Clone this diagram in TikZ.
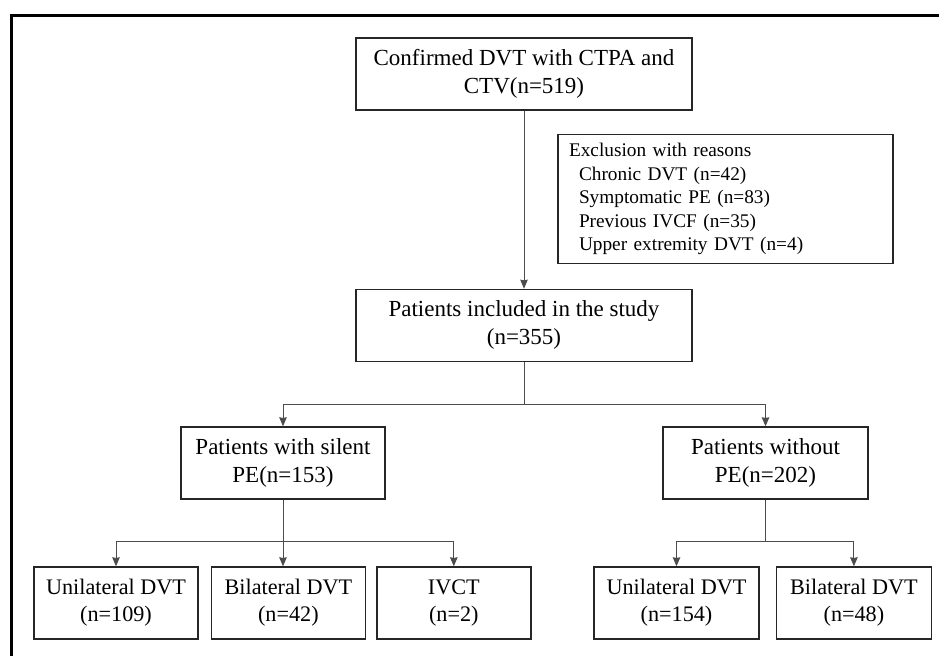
\documentclass[tikz,border=0pt]{standalone}
\usepackage{fontspec}
\setmainfont{Liberation Serif}
\usetikzlibrary{positioning,arrows.meta}

\begin{document}
\begin{tikzpicture}[
    x=1pt, y=-1pt,
    box/.style={rectangle, draw=black!85, line width=1.4pt, inner sep=0pt, align=center,
        minimum height=72pt, font=\fontsize{23}{28}\selectfont},
    smallbox/.style={box, font=\fontsize{22.2}{27}\selectfont},
    notebox/.style={rectangle, draw=black!85, line width=1.4pt, align=left, inner xsep=11pt,
        inner ysep=0pt, text width=313pt, minimum height=129pt, font=\fontsize{19.3}{23.6}\selectfont},
    link/.style={->, >={Stealth[length=9pt, width=7.5pt, inset=0.6pt]}, draw=black!70, line width=0.9pt}
    ]
        \useasboundingbox (0,0) rectangle (939,656);
        %Frame
        \draw[line width=3pt] (11,656) -- (11,15) -- (939,15);

        %Nodes
        \node[box, minimum width=336pt]
            (confirmed)     at (524,74)     {Confirmed DVT with CTPA and\\CTV(n=519)};
        \node[box, minimum width=336pt]
            (included)      [below=178pt of confirmed]  {Patients included in the study\\(n=355)};
        \node[notebox]
            (exclusion)     at (725.5,199)  {Exclusion with reasons\\
                \hspace*{10pt}Chronic DVT (n=42)\\
                \hspace*{10pt}Symptomatic PE (n=83)\\
                \hspace*{10pt}Previous IVCF (n=35)\\
                \hspace*{10pt}Upper extremity DVT (n=4)};
        \node[box, minimum width=204pt]
            (silent)        at (283,463)    {Patients with silent\\PE(n=153)};
        \node[box, minimum width=205pt]
            (nope)          at (765.5,463)  {Patients without\\PE(n=202)};
        \node[smallbox, minimum width=164pt]
            (silentuni)     at (116,603)    {Unilateral DVT\\(n=109)};
        \node[smallbox, minimum width=154pt]
            (silentbi)      [right=12pt of silentuni]   {Bilateral DVT\\(n=42)};
        \node[smallbox, minimum width=154pt]
            (ivct)          [right=10pt of silentbi]    {IVCT\\(n=2)};
        \node[smallbox, minimum width=165pt]
            (nopeuni)       at (676.5,603)  {Unilateral DVT\\(n=154)};
        \node[smallbox, minimum width=155pt]
            (nopebi)        [right=16pt of nopeuni]     {Bilateral DVT\\(n=48)};

        %Lines
        \draw[link]
            (confirmed.south) -- (included.north);
        \draw[draw=black!70, line width=0.9pt]
            (included.south) -- ++(0,42) coordinate (split);
        \draw[link]
            (split) -| (silent.north);
        \draw[link]
            (split) -| (nope.north);
        \draw[draw=black!70, line width=0.9pt]
            (silent.south) -- ++(0,42) coordinate (splitsilent);
        \draw[link]
            (splitsilent) -| (silentuni.north);
        \draw[link]
            (splitsilent) -- (silentbi.north -| splitsilent);
        \draw[link]
            (splitsilent) -| (ivct.north);
        \draw[draw=black!70, line width=0.9pt]
            (nope.south) -- ++(0,42) coordinate (splitnope);
        \draw[link]
            (splitnope) -| (nopeuni.north);
        \draw[link]
            (splitnope) -| (nopebi.north);
\end{tikzpicture}
\end{document}
